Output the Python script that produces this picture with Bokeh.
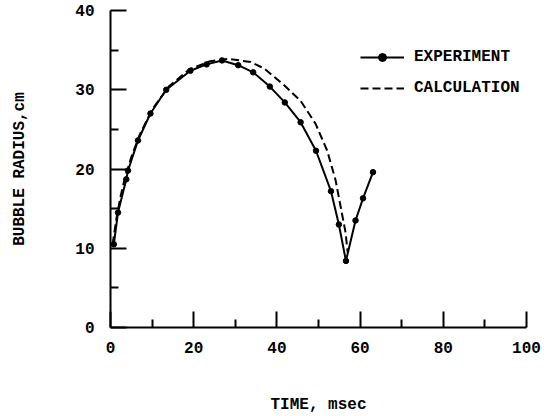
from bokeh.plotting import figure
from bokeh.models import FixedTicker, Legend, LegendItem, Range1d
from bokeh.embed import file_html
from bokeh.resources import INLINE

# Experiment (time msec, bubble radius cm)
exp_t = [0.8, 1.8, 3.8, 4.2, 6.6, 9.6, 13.4, 19.2, 23.1, 26.8, 30.7, 34.3, 38.3, 41.9, 45.7, 49.4, 53.0, 54.9, 56.6, 58.9, 60.7, 63.1]
exp_r = [10.5, 14.5, 18.7, 19.8, 23.6, 27.0, 30.0, 32.4, 33.2, 33.7, 33.1, 32.2, 30.4, 28.4, 25.9, 22.3, 17.2, 13.0, 8.4, 13.5, 16.3, 19.6]

# Calculation
calc_t = [0.5, 1.5, 2.4, 3.3, 5.0, 7.0, 10.0, 14.0, 19.0, 24.0, 28.5, 33.7, 36.9, 41.7, 45.7, 49.3, 52.1, 54.1, 55.3, 56.5, 57.0]
calc_r = [10.5, 14.0, 16.5, 18.5, 21.5, 24.3, 27.5, 30.4, 32.6, 33.6, 33.9, 33.5, 32.7, 30.6, 28.6, 25.7, 22.3, 18.6, 15.3, 12.0, 9.5]

x_major = [0, 20, 40, 60, 80, 100]
x_minor = [10, 30, 50, 70, 90]
y_major = [0, 10, 20, 30, 40]
y_minor = [5, 15, 25, 35]

FONT = "Liberation Mono"

p = figure(width=544, height=416, output_backend="svg", toolbar_location=None,
           x_range=Range1d(0, 100), y_range=Range1d(0, 40),
           min_border_left=110, min_border_right=18, min_border_top=10, min_border_bottom=85)
p.outline_line_color = None
p.grid.visible = False
p.background_fill_color = "white"
p.border_fill_color = "white"

for ax in (p.xaxis[0], p.yaxis[0]):
    ax.axis_line_width = 2
    ax.axis_line_color = "black"
    ax.major_tick_in = 16
    ax.major_tick_out = 0
    ax.minor_tick_in = 8
    ax.minor_tick_out = 0
    ax.major_tick_line_width = 2
    ax.minor_tick_line_width = 2
    ax.major_tick_line_color = "black"
    ax.minor_tick_line_color = "black"
    ax.major_label_text_font = FONT
    ax.major_label_text_font_style = "bold"
    ax.major_label_text_font_size = "16px"
    ax.major_label_text_color = "black"
    ax.axis_label_text_font = FONT
    ax.axis_label_text_font_style = "bold"
    ax.axis_label_text_font_size = "16px"
    ax.axis_label_text_color = "black"

p.xaxis.ticker = FixedTicker(ticks=x_major, minor_ticks=x_minor)
p.yaxis.ticker = FixedTicker(ticks=y_major, minor_ticks=y_minor)
p.xaxis.major_label_standoff = 14
p.yaxis.major_label_standoff = 16
p.xaxis.axis_label = "TIME, msec"
p.yaxis.axis_label = "BUBBLE RADIUS,cm"
p.xaxis.axis_label_standoff = 40
p.yaxis.axis_label_standoff = 43

r_calc = p.line(calc_t, calc_r, line_color="black", line_width=2, line_dash="8 4")
r_exp_line = p.line(exp_t, exp_r, line_color="black", line_width=2)
r_exp_pts = p.scatter(exp_t, exp_r, size=5.5, marker="circle", fill_color="black", line_color="black")

legend = Legend(items=[
    LegendItem(label="EXPERIMENT", renderers=[r_exp_line, r_exp_pts]),
    LegendItem(label="CALCULATION", renderers=[r_calc]),
], location=(250, 229))
legend.padding = 0
legend.margin = 0
legend.spacing = 11
legend.glyph_width = 44
legend.glyph_height = 20
legend.label_standoff = 10
legend.border_line_alpha = 0
legend.background_fill_alpha = 0
legend.label_text_font = FONT
legend.label_text_font_style = "bold"
legend.label_text_font_size = "16px"
legend.label_text_color = "black"
p.add_layout(legend)

open("out.html", "w").write(file_html(p, INLINE))
